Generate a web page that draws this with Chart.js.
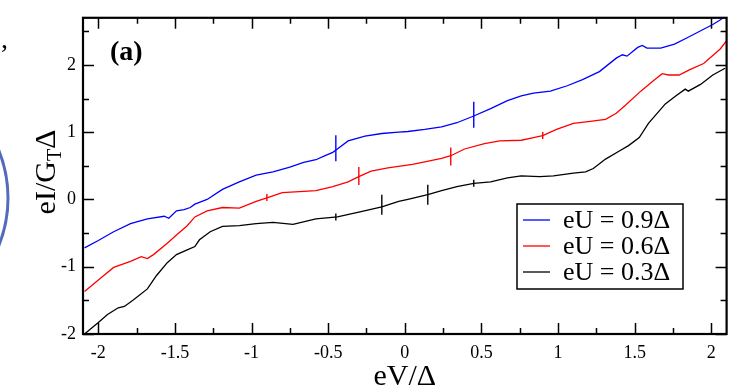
<!DOCTYPE html>
<html>
<head>
<meta charset="utf-8">
<script src="https://cdn.jsdelivr.net/npm/chart.js@4.4.1/dist/chart.umd.min.js"></script>
<style>
  html, body { margin: 0; padding: 0; background: #fff; }
</style>
</head>
<body>
<canvas id="myChart" width="741" height="388"></canvas>
<script>
// eU = 0.9 Delta
const v_blue = [-2.09, -2.0, -1.9, -1.79, -1.68, -1.57, -1.54, -1.49, -1.44, -1.40, -1.37, -1.29, -1.19, -1.08, -0.97, -0.86, -0.75, -0.66, -0.58, -0.52, -0.47, -0.44, -0.37, -0.26, -0.15, -0.04, 0.02, 0.13, 0.24, 0.34, 0.45, 0.56, 0.67, 0.76, 0.84, 0.95, 1.06, 1.16, 1.27, 1.38, 1.42, 1.45, 1.52, 1.55, 1.58, 1.67, 1.76, 1.84, 1.95, 2.01, 2.06, 2.1];
const i_blue = [-0.72, -0.61, -0.48, -0.36, -0.29, -0.25, -0.28, -0.17, -0.15, -0.12, -0.07, 0.0, 0.15, 0.26, 0.36, 0.41, 0.48, 0.55, 0.59, 0.65, 0.70, 0.75, 0.87, 0.94, 0.98, 1.0, 1.01, 1.04, 1.08, 1.14, 1.24, 1.35, 1.47, 1.54, 1.58, 1.61, 1.69, 1.78, 1.90, 2.10, 2.15, 2.13, 2.26, 2.29, 2.25, 2.25, 2.31, 2.40, 2.53, 2.60, 2.67, 2.74];

// eU = 0.6 Delta
const v_red = [-2.09, -1.98, -1.90, -1.79, -1.72, -1.68, -1.64, -1.55, -1.49, -1.42, -1.37, -1.29, -1.19, -1.08, -0.97, -0.89, -0.80, -0.66, -0.58, -0.47, -0.37, -0.30, -0.22, -0.11, 0.05, 0.13, 0.24, 0.30, 0.39, 0.52, 0.62, 0.76, 0.84, 0.90, 0.99, 1.10, 1.21, 1.31, 1.38, 1.44, 1.54, 1.63, 1.68, 1.72, 1.79, 1.86, 1.95, 2.01, 2.06, 2.1];
const i_red = [-1.37, -1.16, -1.01, -0.92, -0.85, -0.88, -0.82, -0.65, -0.53, -0.39, -0.26, -0.17, -0.12, -0.13, -0.03, 0.03, 0.10, 0.12, 0.13, 0.19, 0.26, 0.34, 0.42, 0.47, 0.52, 0.56, 0.61, 0.65, 0.75, 0.83, 0.87, 0.88, 0.92, 0.95, 1.04, 1.13, 1.16, 1.19, 1.28, 1.40, 1.61, 1.78, 1.87, 1.85, 1.85, 1.93, 2.02, 2.14, 2.24, 2.36];

// eU = 0.3 Delta
const v_black = [-2.09, -2.0, -1.94, -1.87, -1.83, -1.77, -1.68, -1.62, -1.55, -1.49, -1.42, -1.37, -1.34, -1.27, -1.19, -1.08, -0.97, -0.86, -0.73, -0.58, -0.44, -0.30, -0.15, -0.04, 0.02, 0.15, 0.24, 0.34, 0.45, 0.56, 0.67, 0.76, 0.88, 0.97, 1.10, 1.18, 1.23, 1.31, 1.40, 1.46, 1.53, 1.59, 1.70, 1.77, 1.83, 1.85, 1.93, 2.01, 2.09];
const i_black = [-2.0, -1.83, -1.71, -1.61, -1.59, -1.49, -1.33, -1.13, -0.94, -0.82, -0.75, -0.70, -0.60, -0.48, -0.40, -0.39, -0.36, -0.34, -0.37, -0.29, -0.26, -0.19, -0.11, -0.03, 0.0, 0.07, 0.13, 0.19, 0.24, 0.26, 0.32, 0.35, 0.34, 0.35, 0.39, 0.41, 0.46, 0.60, 0.72, 0.80, 0.92, 1.13, 1.42, 1.54, 1.64, 1.61, 1.71, 1.85, 1.95];

// vertical marks on the curves
const mark_blue_v = [-0.45, 0.45];
const mark_blue_i = [0.76, 1.26];
const mark_red_v = [-0.9, -0.3, 0.3, 0.9];
const mark_red_i = [0.03, 0.35, 0.64, 0.95];
const mark_black_v = [-0.45, -0.15, 0.15, 0.45];
const mark_black_i = [-0.26, -0.08, 0.07, 0.24];

const legend_labels = ['eU = 0.9\u0394', 'eU = 0.6\u0394', 'eU = 0.3\u0394'];
const x_ticks = [-2, -1.75, -1.5, -1.25, -1, -0.75, -0.5, -0.25, 0, 0.25, 0.5, 0.75, 1, 1.25, 1.5, 1.75, 2];
const y_ticks = [-2, -1.5, -1, -0.5, 0, 0.5, 1, 1.5, 2, 2.5];

const serif = 'Liberation Serif';
const colors = ['#0000ff', '#ff0000', '#000000'];

function pts(xs, ys) {
  return xs.map((v, k) => ({x: v, y: ys[k]}));
}

function curve(label, xs, ys, color) {
  return {
    label: label,
    data: pts(xs, ys),
    showLine: true,
    borderColor: color,
    borderWidth: 1.3,
    tension: 0,
    pointRadius: 0,
    pointHoverRadius: 0
  };
}

function marks(xs, ys, color, sizes) {
  return {
    label: '',
    data: pts(xs, ys),
    showLine: false,
    pointStyle: 'line',
    rotation: 90,
    pointRadius: sizes,
    borderColor: color,
    borderWidth: 1.4,
    pointHoverRadius: 0
  };
}

const frame_plugin = {
  id: 'frame',
  afterDraw(chart) {
    const {ctx, chartArea: a, scales: {x, y}} = chart;
    ctx.save();
    ctx.strokeStyle = '#000';
    ctx.lineWidth = 1.5;
    ctx.beginPath();
    x_ticks.forEach(v => {
      const px = Math.round(x.getPixelForValue(v)) + 0.5;
      const len = Number.isInteger(v * 2) ? 11 : 6;
      ctx.moveTo(px, a.bottom); ctx.lineTo(px, a.bottom - len);
      ctx.moveTo(px, a.top); ctx.lineTo(px, a.top + len);
    });
    y_ticks.forEach(v => {
      const py = Math.round(y.getPixelForValue(v)) + 0.5;
      const len = Number.isInteger(v) ? 11 : 6;
      ctx.moveTo(a.left, py); ctx.lineTo(a.left + len, py);
      ctx.moveTo(a.right, py); ctx.lineTo(a.right - len, py);
    });
    ctx.stroke();
    ctx.lineWidth = 2.2;
    ctx.strokeRect(a.left, a.top, a.right - a.left, a.bottom - a.top);

    // panel label
    ctx.fillStyle = '#000';
    ctx.textBaseline = 'alphabetic';
    ctx.textAlign = 'left';
    ctx.font = 'bold 28px "' + serif + '"';
    ctx.fillText('(a)', 110, 60);

    // stray comma from the page
    ctx.font = '28px "' + serif + '"';
    ctx.fillText(',', 1, 48);

    // edge of a page figure on the left margin
    ctx.save();
    ctx.strokeStyle = 'rgba(40,70,170,0.8)';
    ctx.lineWidth = 3;
    ctx.beginPath();
    ctx.arc(-120, 198, 128, -0.45, 0.45);
    ctx.stroke();
    ctx.restore();

    // x title
    ctx.font = '30px "' + serif + '"';
    ctx.textAlign = 'center';
    ctx.fillText('eV/\u0394', (a.left + a.right) / 2, 385);

    // y title with subscript
    ctx.save();
    ctx.translate(55, 172);
    ctx.rotate(-Math.PI / 2);
    ctx.textAlign = 'left';
    const big = '30px "' + serif + '"';
    const small = '20px "' + serif + '"';
    ctx.font = big;
    const w1 = ctx.measureText('eI/G').width;
    const w3 = ctx.measureText('\u0394').width;
    ctx.font = small;
    const w2 = ctx.measureText('T').width;
    let sx = -(w1 + w2 + w3) / 2;
    ctx.font = big;
    ctx.fillText('eI/G', sx, 0);
    ctx.font = small;
    ctx.fillText('T', sx + w1, 6);
    ctx.font = big;
    ctx.fillText('\u0394', sx + w1 + w2, 0);
    ctx.restore();

    // legend box
    ctx.lineWidth = 1.5;
    ctx.strokeRect(517, 204, 166, 85);
    ctx.font = '26px "' + serif + '"';
    ctx.textAlign = 'left';
    ctx.textBaseline = 'middle';
    legend_labels.forEach((t, k) => {
      const ly = 220 + k * 26;
      ctx.strokeStyle = colors[k];
      ctx.lineWidth = 1.3;
      ctx.beginPath();
      ctx.moveTo(523, ly); ctx.lineTo(550, ly);
      ctx.stroke();
      ctx.fillText(t, 563, ly + 1);
    });
    ctx.restore();
  }
};

const ctx = document.getElementById('myChart');

const myChart = new Chart(ctx, {
  type: 'scatter',
  data: {
    datasets: [
      curve(legend_labels[0], v_blue, i_blue, colors[0]),
      curve(legend_labels[1], v_red, i_red, colors[1]),
      curve(legend_labels[2], v_black, i_black, colors[2]),
      marks(mark_blue_v, mark_blue_i, colors[0], [13, 13]),
      marks(mark_red_v, mark_red_i, colors[1], [3.5, 9, 9, 3.5]),
      marks(mark_black_v, mark_black_i, colors[2], [3.5, 10, 10, 3.5])
    ]
  },
  options: {
    responsive: false,
    animation: false,
    devicePixelRatio: 1,
    layout: { padding: { left: 0, right: 10, top: 8, bottom: 0 } },
    plugins: {
      legend: { display: false },
      tooltip: { enabled: false }
    },
    scales: {
      x: {
        type: 'linear',
        min: -2.1,
        max: 2.1,
        afterBuildTicks: s => { s.ticks = x_ticks.map(v => ({value: v})); },
        afterFit: s => { s.height = 54; },
        grid: { display: false, drawTicks: false },
        border: { display: false },
        ticks: {
          autoSkip: false,
          maxRotation: 0,
          padding: 8,
          color: '#000',
          font: { family: serif, size: 18 },
          callback: v => Number.isInteger(v * 2) ? String(v) : ''
        }
      },
      y: {
        type: 'linear',
        min: -2,
        max: 2.7,
        afterBuildTicks: s => { s.ticks = y_ticks.map(v => ({value: v})); },
        afterFit: s => { s.width = 83; },
        grid: { display: false, drawTicks: false },
        border: { display: false },
        ticks: {
          autoSkip: false,
          padding: 7,
          color: '#000',
          font: { family: serif, size: 18 },
          callback: v => Number.isInteger(v) ? String(v) : ''
        }
      }
    }
  },
  plugins: [frame_plugin]
});
</script>
</body>
</html>
